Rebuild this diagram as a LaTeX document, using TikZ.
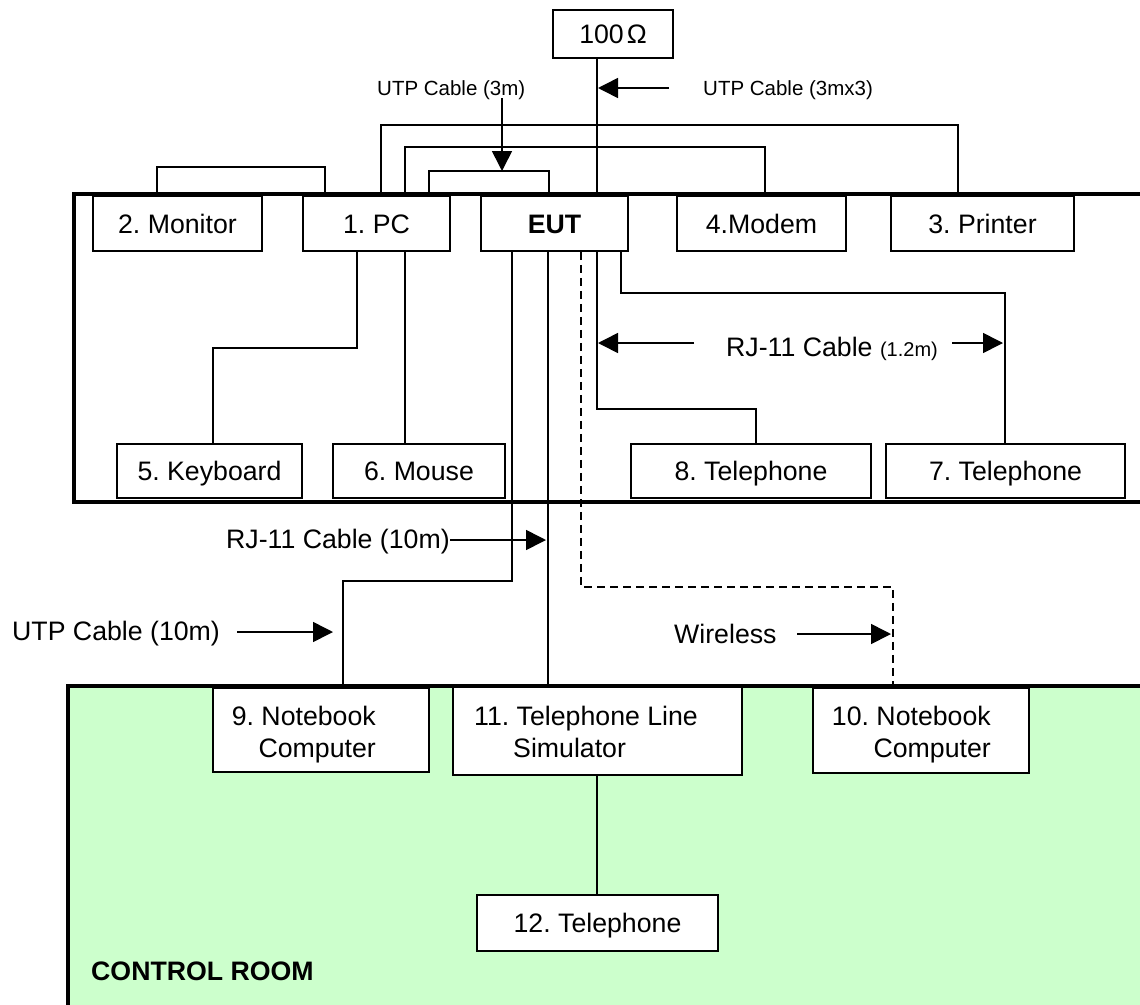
\documentclass[tikz,border=0pt]{standalone}
\usepackage{fontspec}
\setmainfont{Liberation Sans}
\usetikzlibrary{arrows.meta}
\definecolor{roomgreen}{HTML}{CCFFCC}
\frenchspacing
\begin{document}
\begin{tikzpicture}[x=1pt,y=-1pt,
  box/.style={draw, line width=1.8pt, fill=white, inner sep=0pt, text height=19.1pt, text depth=0pt, font=\fontsize{26.7}{32}\selectfont},
  lbl/.style={inner sep=0pt, font=\fontsize{26.7}{32}\selectfont},
  slbl/.style={inner sep=0pt, font=\fontsize{20.5}{24}\selectfont},
  wire/.style={line width=1.8pt},
  room/.style={line width=4.5pt},
  arr/.style={line width=1.6pt, -{Triangle[length=20pt,width=20pt]}}]
\useasboundingbox (0,0) rectangle (1140,1004);
\fill[white] (0,0) rectangle (1140,1004);
% rooms
\draw[room] (1170,194) -- (74,194) -- (74,502) -- (1170,502);
\fill[roomgreen] (68,686) rectangle (1170,1030);
\draw[room] (1170,686) -- (68,686) -- (68,1030);
% boxes
\node[box, minimum width=120, minimum height=48] (res) at (613,34) {100\hspace{3pt}Ω};
\node[box, minimum width=169, minimum height=55] (mon) at (177.5,223.5) {2. Monitor};
\node[box, minimum width=147, minimum height=55] (pc) at (376.5,223.5) {1. PC};
\node[box, minimum width=147, minimum height=55, font=\fontsize{26.7}{32}\selectfont\bfseries] (eut) at (554.5,223.5) {EUT};
\node[box, minimum width=169, minimum height=55] (modem) at (761.5,223.5) {4.Modem};
\node[box, minimum width=183, minimum height=55] (prn) at (982.5,223.5) {3. Printer};
\node[box, minimum width=185, minimum height=54] (kb) at (209.5,471) {5. Keyboard};
\node[box, minimum width=172, minimum height=54] (mouse) at (419,471) {6. Mouse};
\node[box, minimum width=240, minimum height=54] (tel8) at (751,471) {8. Telephone};
\node[box, minimum width=239, minimum height=54] (tel7) at (1005.5,471) {7. Telephone};
\node[box, minimum width=216, minimum height=84] (nb9) at (321,730) {};
\node[box, minimum width=289, minimum height=88] (sim) at (597.5,731) {};
\node[box, minimum width=216, minimum height=85] (nb10) at (921,730.5) {};
\node[box, minimum width=241, minimum height=56] (tel12) at (597.5,923) {12. Telephone};
% texts in control room boxes
\node[lbl, anchor=base east] (nb9a) at (376,725) {9. Notebook};
\node[lbl, anchor=base east] (nb9b) at (376,757) {Computer};
\node[lbl, anchor=base west] (sima) at (474,725) {11. Telephone Line};
\node[lbl, anchor=base west] (simb) at (513,757) {Simulator};
\node[lbl, anchor=base east] (nb10a) at (991,725) {10. Notebook};
\node[lbl, anchor=base east] (nb10b) at (991,757) {Computer};
\node[lbl, anchor=base west, font=\fontsize{26.7}{32}\selectfont\bfseries] (cr) at (91,980) {CONTROL ROOM};
% cable labels
\node[slbl, anchor=base west] (l3m) at (377,95) {UTP Cable (3m)};
\node[slbl, anchor=base west] (l3mx3) at (703,95) {UTP Cable (3mx3)};
\node[lbl, anchor=base west] (lrj12) at (726,356) {RJ-11 Cable {\fontsize{20}{24}\selectfont(1.2m)}};
\node[lbl, anchor=base west] (lrj10) at (226,548) {RJ-11 Cable (10m)};
\node[lbl, anchor=base west] (lutp10) at (12,640) {UTP Cable (10m)};
\node[lbl, anchor=base west] (lwl) at (674,643) {Wireless};
% wires
\draw[wire] ([xshift=-16]res.south) -- ([xshift=42.5]eut.north);
\draw[wire] ([xshift=-20.5]mon.north) -- ++(0,-28) -| ([xshift=-51.5]pc.north);
\draw[wire] ([xshift=52.5]pc.north) -- ++(0,-24) -| ([xshift=-5.5]eut.north);
\draw[wire] ([xshift=28.5]pc.north) -- ++(0,-48) -| ([xshift=3.5]modem.north);
\draw[wire] ([xshift=4.5]pc.north) -- ++(0,-70) -| ([xshift=-24.5]prn.north);
\draw[wire] ([xshift=-19.5]pc.south) -- ++(0,96) -| ([xshift=3.5]kb.north);
\draw[wire] ([xshift=28.5]pc.south) -- ([xshift=-14]mouse.north);
\draw[wire] ([xshift=66.5]eut.south) -- ++(0,41) -| ([xshift=-0.5]tel7.north);
\draw[wire] ([xshift=42.5]eut.south) -- ++(0,157) -| ([xshift=5]tel8.north);
\draw[wire, dash pattern=on 8pt off 5pt] ([xshift=26.5]eut.south) -- ++(0,335) -| ([xshift=-28]nb10.north);
\draw[wire] ([xshift=-6.5]eut.south) -- ([xshift=-49.5]sim.north);
\draw[wire] ([xshift=-42.5]eut.south) -- ++(0,329) -| ([xshift=22]nb9.north);
\draw[wire] ([xshift=-0.5]sim.south) -- ([xshift=-0.5]tel12.north);
% arrows
\coordinate (a1s) at (502,98);  \coordinate (a1e) at (502,171);
\coordinate (a2s) at (669,88);  \coordinate (a2e) at (598,88);
\coordinate (a3s) at (694,343); \coordinate (a3e) at (598,343);
\coordinate (a4s) at (952,343); \coordinate (a4e) at (1003,343);
\coordinate (a5s) at (450,540); \coordinate (a5e) at (546,540);
\coordinate (a6s) at (237,632); \coordinate (a6e) at (333,632);
\coordinate (a7s) at (797,634); \coordinate (a7e) at (891,634);
\draw[arr] (a1s) -- (a1e);
\draw[arr] (a2s) -- (a2e);
\draw[arr] (a3s) -- (a3e);
\draw[arr] (a4s) -- (a4e);
\draw[arr] (a5s) -- (a5e);
\draw[arr] (a6s) -- (a6e);
\draw[arr] (a7s) -- (a7e);
\end{tikzpicture}
\end{document}
